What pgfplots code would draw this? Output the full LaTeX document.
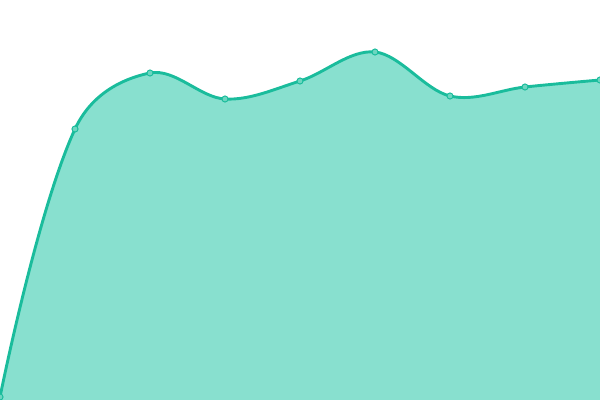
\documentclass[border=0pt]{standalone}
\usepackage{pgfplots}
\pgfplotsset{compat=1.18}
\definecolor{linec}{HTML}{1ABC9C}
\definecolor{areac}{HTML}{88E0CF}
\definecolor{markc}{HTML}{6DD6C0}
\pgfplotstableread{
x y
0 3
1 271
2 327
3 301
4 319
5 348
6 304
7 313
8 320
}\series
% one clipped stretch of the curve, drawn with its own tension
\newcommand\curvepart[3]{%
  \begin{scope}
    \clip (axis cs:#1,-10) rectangle (axis cs:#2,500);
    \addplot[smooth, tension=#3, draw=none, fill=areac]
      table[x=x, y=y] {\series} \closedcycle;
    \addplot[smooth, tension=#3, color=linec, line width=2.1pt]
      table[x=x, y=y] {\series};
  \end{scope}}
\begin{document}
\begin{tikzpicture}
  \begin{axis}[
      width=6in, height=4in,
      scale only axis,
      hide axis,
      xmin=0, xmax=8,
      ymin=0, ymax=400,
      clip=false,
    ]
    \curvepart{-1}{1}{0.9}
    \curvepart{1}{2}{0.45}
    \curvepart{2}{9}{0.6}
    \addplot[only marks, mark=*, mark size=2.2pt,
        mark options={fill=markc, draw=linec, line width=0.7pt}]
      table[x=x, y=y] {\series};
  \end{axis}
  \pgfresetboundingbox
  \path[use as bounding box] (0,0) rectangle (6in,4in);
\end{tikzpicture}
\end{document}
